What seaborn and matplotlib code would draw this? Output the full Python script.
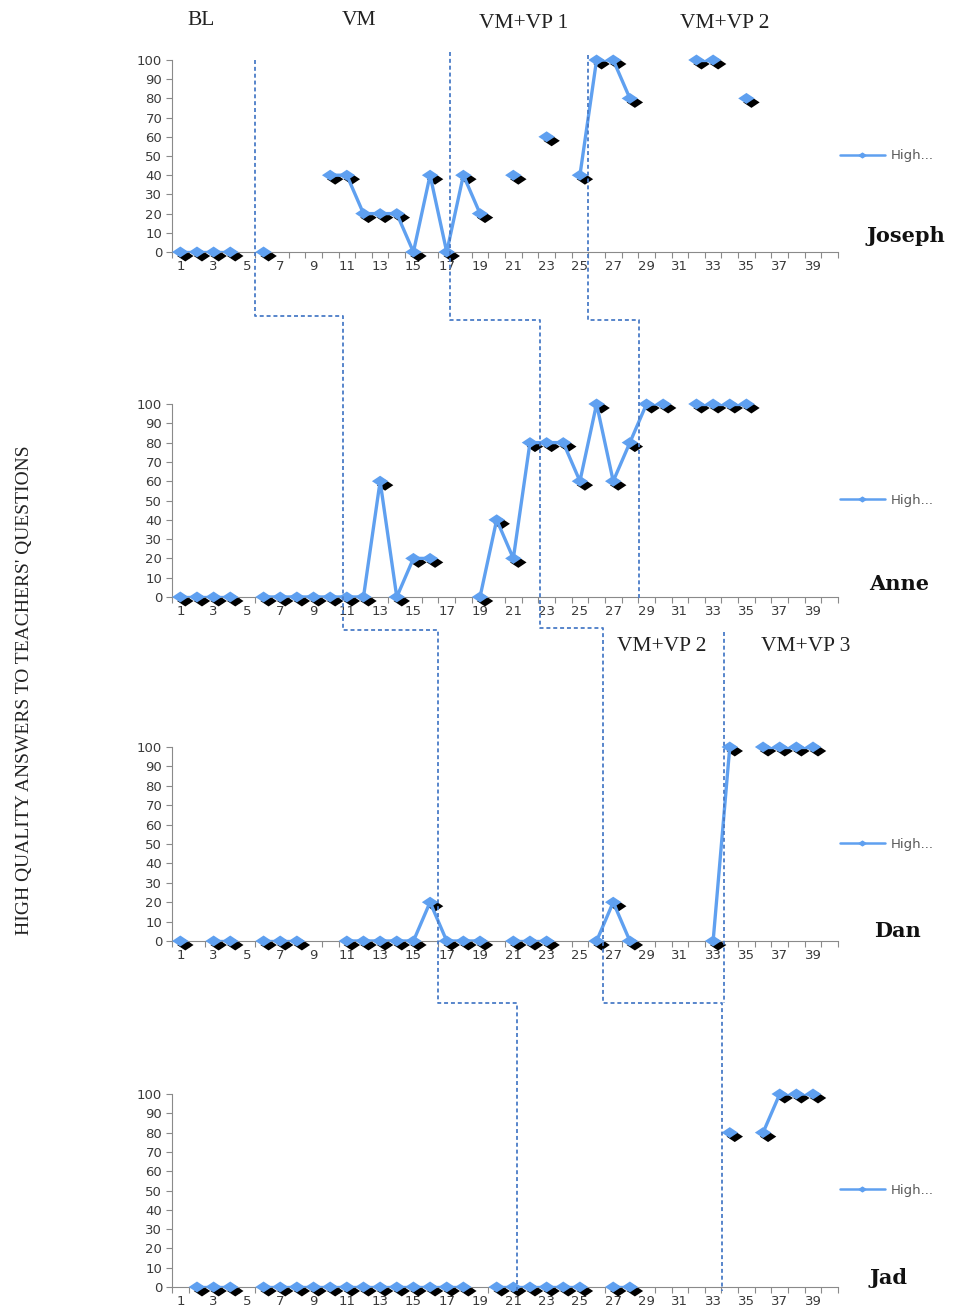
import numpy as np
import pandas as pd
import matplotlib
matplotlib.use("Agg")
import matplotlib.pyplot as plt
import seaborn as sns
from matplotlib.path import Path
from matplotlib.lines import Line2D
from matplotlib.transforms import offset_copy

nan = np.nan

# ---- data -------------------------------------------------------------
sessions = list(range(1, 41))
students = ["Joseph", "Anne", "Dan", "Jad"]

joseph = [0, 0, 0, 0, nan, 0, nan, nan, nan, 40,
          40, 20, 20, 20, 0, 40, 0, 40, 20, nan,
          40, nan, 60, nan, 40, 100, 100, 80, nan, nan,
          nan, 100, 100, nan, 80, nan, nan, nan, nan, nan]
anne = [0, 0, 0, 0, nan, 0, 0, 0, 0, 0,
        0, 0, 60, 0, 20, 20, nan, nan, 0, 40,
        20, 80, 80, 80, 60, 100, 60, 80, 100, 100,
        nan, 100, 100, 100, 100, nan, nan, nan, nan, nan]
dan = [0, nan, 0, 0, nan, 0, 0, 0, nan, nan,
       0, 0, 0, 0, 0, 20, 0, 0, 0, nan,
       0, 0, 0, nan, nan, 0, 20, 0, nan, nan,
       nan, nan, 0, 100, nan, 100, 100, 100, 100, nan]
jad = [nan, 0, 0, 0, nan, 0, 0, 0, 0, 0,
       0, 0, 0, 0, 0, 0, 0, 0, nan, 0,
       0, 0, 0, 0, 0, nan, 0, 0, nan, nan,
       nan, nan, nan, 80, nan, 80, 100, 100, 100, nan]
series = [joseph, anne, dan, jad]

x_tick_labels = list(range(1, 40, 2))
y_ticks = list(range(0, 101, 10))
legend_label = "High..."
y_title = "HIGH QUALITY ANSWERS TO TEACHERS' QUESTIONS"
top_phases = ["BL", "VM", "VM+VP 1", "VM+VP 2"]
lower_phases = ["VM+VP 2", "VM+VP 3"]

# phase-change positions (in sessions) on each panel
phase_x = [[5.5, 17.2, 25.5],
           [10.75, 22.6, 28.55],
           [16.5, 26.4, 33.65],
           [21.25, 33.55]]

# ---- style ------------------------------------------------------------
sns.set_style("white")
plt.rcParams["font.family"] = ["DejaVu Sans"]

BLUE = "#5FA0F0"
DASH = "#4A7CC7"
GRAY = "#8A8A8A"
TXT = "#3A3A3A"

W, H = 956, 1308
fig = plt.figure(figsize=(W / 100, H / 100), dpi=100)


def fx(px):
    return px / W


def fy(py):
    return 1 - py / H


# wide diamond marker
diamond = Path([(-1.5, 0), (0, 1), (1.5, 0), (0, -1), (-1.5, 0)],
               [Path.MOVETO, Path.LINETO, Path.LINETO, Path.LINETO, Path.CLOSEPOLY])

panel_rows = [(60, 252), (404, 597), (747, 941), (1094, 1287)]
axes = []
for (top, bot), name, vals in zip(panel_rows, students, series):
    ax = fig.add_axes([fx(172), fy(bot), fx(838) - fx(172), (bot - top) / H])
    axes.append(ax)

    df = pd.DataFrame({"session": sessions, "score": vals})
    valid = df["score"].notna()
    df["run"] = (valid != valid.shift()).cumsum()
    dfv = df[valid]

    sns.lineplot(data=dfv, x="session", y="score", units="run", estimator=None,
                 color=BLUE, lw=2.4, ax=ax, legend=False, zorder=3)
    shadow = offset_copy(ax.transData, fig=fig, x=5, y=-4, units="dots")
    sns.scatterplot(data=dfv, x="session", y="score", marker=diamond, s=140,
                    color="black", edgecolor="none", transform=shadow,
                    ax=ax, legend=False, zorder=2, clip_on=False)
    sns.scatterplot(data=dfv, x="session", y="score", marker=diamond, s=140,
                    color=BLUE, edgecolor="none", ax=ax, legend=False,
                    zorder=4, clip_on=False)

    ax.set_xlim(0.5, 40.5)
    ax.set_ylim(0, 100)
    ax.set_xticks(x_tick_labels)
    ax.set_xticks(np.arange(0.5, 41, 1), minor=True)
    ax.set_yticks(y_ticks)
    ax.tick_params(axis="x", which="major", length=0, pad=6, labelsize=9.5,
                   labelcolor=TXT)
    ax.tick_params(axis="x", which="minor", length=4, width=0.8, color=GRAY,
                   direction="out", bottom=True)
    ax.tick_params(axis="y", length=4, width=0.8, color=GRAY, direction="out",
                   left=True, pad=3, labelsize=9.5, labelcolor=TXT)
    for s in ["top", "right"]:
        ax.spines[s].set_visible(False)
    for s in ["left", "bottom"]:
        ax.spines[s].set_color(GRAY)
        ax.spines[s].set_linewidth(0.8)
    ax.set_xlabel("")
    ax.set_ylabel("")
    ax.set_facecolor("none")

    handle = Line2D([], [], color=BLUE, lw=1.8, marker=diamond, markersize=5,
                    markeredgecolor=BLUE)
    ax.legend([handle], [legend_label], loc="center left",
              bbox_to_anchor=(1.003, 0.5), frameon=False, handlelength=3.4,
              handletextpad=0.45, borderaxespad=0, borderpad=0, fontsize=9.5,
              labelcolor="#595959")

# ---- participant names --------------------------------------------------
name_pos = [(906, 242), (899, 590), (897, 937), (889, 1284)]
for name, (cx, by) in zip(students, name_pos):
    fig.text(fx(cx), fy(by), name, ha="center", va="baseline",
             family="DejaVu Serif", fontweight="bold", fontsize=15,
             color="#111111")

# ---- phase titles --------------------------------------------------------
top_pos = [(201, 25), (359, 25), (524, 28), (725, 28)]
for lab, (cx, by) in zip(top_phases, top_pos):
    fig.text(fx(cx), fy(by), lab, ha="center", va="baseline",
             family="Liberation Serif", fontsize=15.5, color="#222222")
low_pos = [(662, 651), (806, 651)]
for lab, (cx, by) in zip(lower_phases, low_pos):
    fig.text(fx(cx), fy(by), lab, ha="center", va="baseline",
             family="Liberation Serif", fontsize=15.5, color="#222222")

fig.text(fx(25), fy(690), y_title, rotation=90, ha="center", va="center",
         family="Liberation Serif", fontsize=14, color="#222222")


# ---- phase-change staircase lines ---------------------------------------
def xfig(ax, x):
    disp = ax.transData.transform((x, 0))
    return fig.transFigure.inverted().transform(disp)[0]


def staircase(xs, y_start, steps, y_end):
    pts = [(xs[0], fy(y_start))]
    for i, s in enumerate(steps):
        pts.append((xs[i], fy(s)))
        pts.append((xs[i + 1], fy(s)))
    pts.append((xs[-1], fy(y_end)))
    px, py = zip(*pts)
    fig.add_artist(Line2D(px, py, transform=fig.transFigure, color=DASH,
                          lw=1.3, linestyle=(0, (2.2, 1.6)), zorder=5))


line_a = [xfig(axes[i], phase_x[i][0]) for i in range(4)]
line_b = [xfig(axes[i], phase_x[i][1]) for i in range(4)]
line_c = [xfig(axes[0], phase_x[0][2]), xfig(axes[1], phase_x[1][2])]
line_d = [xfig(axes[2], phase_x[2][2])]

staircase(line_a, 60, [316, 630, 1003], 1291)
staircase(line_b, 52, [320, 628, 1003], 1291)
staircase(line_c, 55, [320], 598)
staircase(line_d, 632, [], 1003)

fig.savefig("out.png", dpi=100, facecolor="white")
